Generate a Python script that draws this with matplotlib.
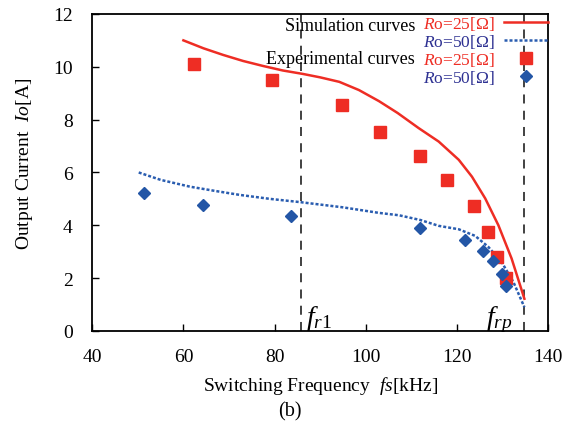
import matplotlib
matplotlib.use("Agg")
import matplotlib.pyplot as plt

plt.rcParams['font.family'] = ['Liberation Serif', 'DejaVu Serif']
plt.rcParams['mathtext.fontset'] = 'custom'
plt.rcParams['mathtext.rm'] = 'Liberation Serif'
plt.rcParams['mathtext.it'] = 'Liberation Serif:italic'

# Simulation curves
sim25_f = [60.0, 64.4, 68.7, 73.1, 77.5, 81.8, 86.2, 90, 94.2, 98.5, 102.9, 107, 111.6, 116.0,
           120.4, 123.3, 126.2, 129.1, 132.0, 134.8]
sim25_i = [11.0, 10.7, 10.45, 10.22, 10.03, 9.86, 9.73, 9.6, 9.43, 9.12, 8.7, 8.25, 7.68, 7.17,
           6.48, 5.84, 5.02, 4.0, 2.74, 1.22]
sim50_f = [50.2, 55, 61.5, 67, 72.4, 79, 85.5, 95, 102.9, 107.3, 112, 116.0, 120.4, 124.0,
           126.9, 129.8, 132.4, 134.8]
sim50_i = [6.0, 5.72, 5.46, 5.3, 5.15, 5.0, 4.88, 4.68, 4.47, 4.38, 4.2, 3.98, 3.85, 3.6,
           3.18, 2.61, 1.85, 0.9]

# Experimental points
exp25_f = [62.4, 79.4, 94.9, 103.1, 112.0, 117.8, 123.7, 126.8, 128.7, 130.7]
exp25_i = [10.09, 9.49, 8.54, 7.55, 6.64, 5.72, 4.74, 3.75, 2.80, 2.0]
exp50_f = [51.3, 64.3, 83.7, 111.9, 121.8, 125.8, 127.9, 129.8, 130.7]
exp50_i = [5.21, 4.76, 4.36, 3.9, 3.46, 3.03, 2.65, 2.17, 1.7]

f_r1 = 85.8
f_rp = 134.8

x_ticks = [40, 60, 80, 100, 120, 140]
y_ticks = [0, 2, 4, 6, 8, 10, 12]

RED = '#EE2D24'
BLUE_LINE = '#2A5DB0'
BLUE_MK = '#2356A6'
BLUE_TXT = '#2E3192'

fig = plt.figure(figsize=(5.8, 4.27), dpi=100)
ax = fig.add_axes([0.159, 0.2225, 0.786, 0.7425])

ax.axvline(f_r1, color='#333333', lw=1.3, ls=(0, (5, 4)), zorder=1)
ax.axvline(f_rp, color='#333333', lw=1.3, ls=(0, (5, 4)), zorder=1)

l1, = ax.plot(sim25_f, sim25_i, color=RED, lw=1.8, zorder=3)
l2, = ax.plot(sim50_f, sim50_i, color=BLUE_LINE, lw=1.8, ls=(0, (1.2, 0.8)), zorder=3)
m1, = ax.plot(exp25_f, exp25_i, ls='none', marker='s', ms=9, color=RED, mec=RED, zorder=4)
m2, = ax.plot(exp50_f, exp50_i, ls='none', marker='D', ms=6.5, color=BLUE_MK, mec=BLUE_MK, zorder=5)

ax.set_xlim(40, 140)
ax.set_ylim(0, 12)
ax.set_xticks(x_ticks)
ax.set_yticks(y_ticks)
ax.tick_params(direction='in', length=5, width=1, labelsize=14,
               top=False, right=False)
ax.tick_params(axis='x', pad=12)
ax.tick_params(axis='y', pad=14)
for s in ax.spines.values():
    s.set_linewidth(1.3)

ax.set_xlabel(r'Switching Frequency  $\mathit{fs}$[kHz]', fontsize=14, labelpad=7)
ax.set_ylabel(r'Output Current  $\mathit{Io}$[A]', fontsize=14)
ax.yaxis.set_label_coords(-0.125, 0.53)

fig.text(0.5, 0.012, '(b)', ha='center', va='bottom', fontsize=14.5)

ax.text(87.0, 0.25, r'$f_{r1}$', fontsize=20, ha='left', va='baseline')
ax.text(126.3, 0.25, r'$f_{rp}$', fontsize=20, ha='left', va='baseline')

labels = [r'$\mathit{R}$o=25[$\Omega$]', r'$\mathit{R}$o=50[$\Omega$]',
          r'$\mathit{R}$o=25[$\Omega$]', r'$\mathit{R}$o=50[$\Omega$]']
leg = ax.legend([l1, l2, m1, m2], labels, loc='upper right', markerfirst=False,
                frameon=False, fontsize=12.5, borderaxespad=0.0, borderpad=0.0,
                handlelength=2.55, handletextpad=0.55, labelspacing=0.0,
                bbox_to_anchor=(1.0, 1.0))
for t, c in zip(leg.get_texts(), [RED, BLUE_TXT, RED, BLUE_TXT]):
    t.set_color(c)

ax.text(0.708, 0.962, 'Simulation curves', transform=ax.transAxes,
        ha='right', va='center', fontsize=13)
ax.text(0.708, 0.858, 'Experimental curves', transform=ax.transAxes,
        ha='right', va='center', fontsize=13)

fig.savefig('out.png', dpi=100)
